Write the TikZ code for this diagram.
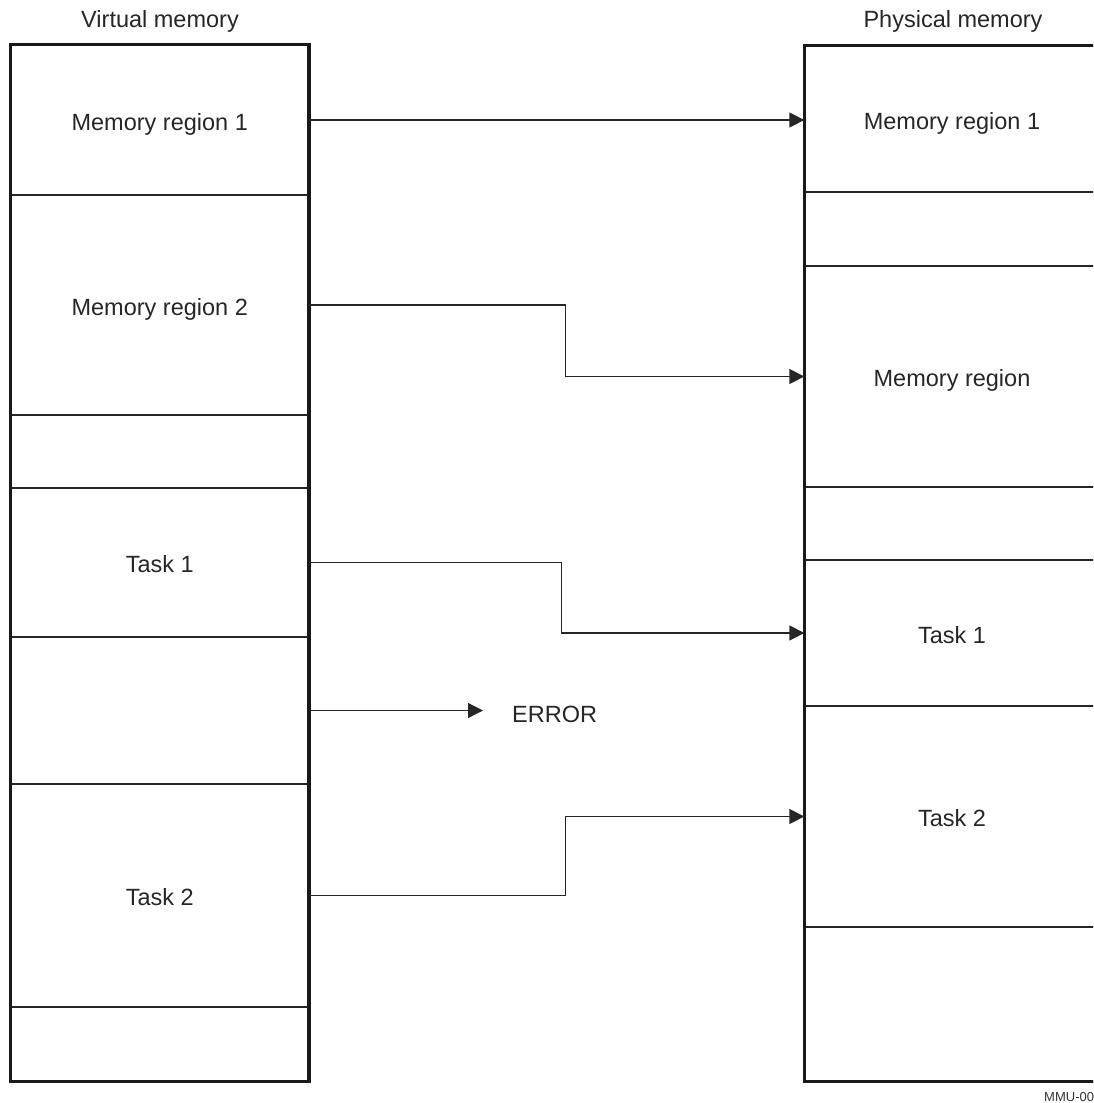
\documentclass[tikz,border=0pt]{standalone}
\usepackage{fontspec}
\setmainfont{Liberation Sans}
\usetikzlibrary{arrows.meta}
\begin{document}
\begin{tikzpicture}[x=1pt,y=-1pt,
  lbl/.style={font=\fontsize{23.5}{28}\selectfont, text=black!85},
  clbl/.style={lbl, text height=22pt, text depth=2pt},
  cell/.style={draw=black!85, line width=1.3pt, minimum width=#1, inner sep=0pt},
  frame/.style={draw=black!90, line width=3.6pt},
  arr/.style={draw=black!85, line width=1.3pt, -{Triangle[length=15pt,width=15pt]}}]
\useasboundingbox (0,0) rectangle (1093,1103);
\clip (0,0) rectangle (1093,1103);
% Virtual memory cells
\node[cell=297.5pt, minimum height=150pt, clbl] (v1) at (159.75,120) {Memory region 1};
\node[cell=297.5pt, minimum height=220pt, clbl] (v2) at (159.75,305) {Memory region 2};
\node[cell=297.5pt, minimum height=73pt] (v3) at (159.75,451.5) {};
\node[cell=297.5pt, minimum height=149pt, clbl] (v4) at (159.75,562.5) {Task 1};
\node[cell=297.5pt, minimum height=147pt] (v5) at (159.75,710.5) {};
\node[cell=297.5pt, minimum height=223pt, clbl] (v6) at (159.75,895.5) {Task 2};
\node[cell=297.5pt, minimum height=74pt] (v7) at (159.75,1044) {};
\draw[frame] (v1.north west) rectangle (v7.south east);
% Physical memory cells
\node[cell=294pt, minimum height=146pt, clbl] (p1) at (952,119) {Memory region 1};
\node[cell=294pt, minimum height=74pt] (p2) at (952,229) {};
\node[cell=294pt, minimum height=221pt, clbl] (p3) at (952,376.5) {Memory region};
\node[cell=294pt, minimum height=73pt] (p4) at (952,523.5) {};
\node[cell=294pt, minimum height=146pt, clbl] (p5) at (952,633) {Task 1};
\node[cell=294pt, minimum height=221pt, clbl] (p6) at (952,816.5) {Task 2};
\node[cell=294pt, minimum height=154pt] (p7) at (952,1004) {};
\draw[frame] (p1.north west) rectangle (p7.south east);
% Titles
\node[lbl] (tv) at (160,21) {Virtual memory};
\node[lbl] (tp) at (953,21) {Physical memory};
\node[lbl, anchor=west, inner sep=0pt] (err) at (512,714) {ERROR};
\node[font=\fontsize{13}{15}\selectfont, text=black!80, anchor=west, inner sep=0pt] (id) at (1044,1097) {MMU-00};
% Connectors
\draw[arr] (v1.east) -- (v1.east -| p1.west);
\draw[arr] (v2.east) -- ++(256,0) |- (p3.west);
\draw[arr] (v4.east) -- ++(252,0) |- (p5.west);
\draw[arr, shorten >=29pt] (v5.east) -- (err.west |- v5.east);
\draw[arr] (v6.east) -- ++(256,0) |- (p6.west);
\end{tikzpicture}
\end{document}
